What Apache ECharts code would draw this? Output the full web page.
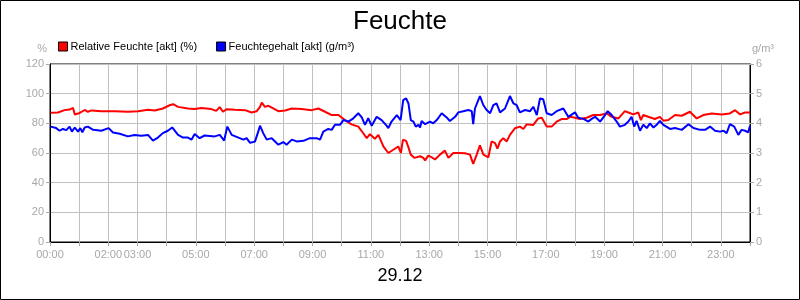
<!DOCTYPE html>
<html>
<head>
<meta charset="utf-8">
<script src="https://cdn.jsdelivr.net/npm/echarts@6/dist/echarts.min.js"></script>
<style>
html,body{margin:0;padding:0;background:#fff;}
#chart{width:800px;height:300px;}
</style>
</head>
<body>
<div id="chart"></div>
<script>
// ---- DATA ----
var titleText = "Feuchte";
var dateText = "29.12";
var seriesNames = ["Relative Feuchte [akt] (%)", "Feuchtegehalt [akt] (g/m³)"];
var leftAxisName = "%";
var rightAxisName = "g/m³";
var xLabelHours = [0, 2, 3, 5, 7, 9, 11, 13, 15, 17, 19, 21, 23];

// Relative humidity (%), time in hours
var rhHours = [0.02,0.27,0.5,0.67,0.79,0.85,1.02,1.19,1.3,1.42,1.76,2.22,2.67,3.02,3.36,3.59,3.87,4.1,4.22,4.39,4.73,4.96,5.19,5.53,5.7,5.82,5.93,6.05,6.11,6.34,6.69,6.91,7.09,7.2,7.26,7.37,7.49,7.83,8.06,8.29,8.63,8.97,9.2,9.43,9.66,9.89,10.11,10.34,10.57,10.74,10.86,10.97,11.14,11.26,11.43,11.6,11.77,11.94,12.03,12.1,12.21,12.29,12.37,12.5,12.69,12.8,12.86,12.97,13.09,13.2,13.37,13.54,13.66,13.83,14.0,14.23,14.4,14.51,14.63,14.74,14.86,15.03,15.14,15.26,15.34,15.43,15.54,15.66,15.77,15.94,16.11,16.23,16.34,16.57,16.74,16.86,17.03,17.2,17.37,17.54,17.71,17.83,18.0,18.17,18.4,18.63,18.86,19.09,19.26,19.49,19.71,19.83,20.0,20.17,20.26,20.34,20.51,20.74,20.91,21.03,21.2,21.43,21.66,21.94,22.17,22.4,22.69,23.03,23.31,23.49,23.66,23.83,24.0];
var rhValues = [87.1,87.3,88.9,89.3,90.4,86,87,89,87.8,88.7,88.2,88.2,87.8,88.2,89.1,88.7,90,92.2,92.9,91.1,90,89.6,90.4,89.6,88.4,90.9,87.8,89.5,90.4,89.1,88.9,87.3,88.2,91.1,94,91.1,91.8,88.2,88.7,90,89.6,88.9,90,87.8,85.6,85.6,82.2,79.3,77.8,73.3,70,72.7,69.6,72.2,64.4,60,62.2,64.4,60,68.9,68.2,63.8,58.9,56.7,57.8,56.7,55,58.2,57.1,55.6,58.9,61.6,56.7,60,60,59.8,58.9,52.7,58.9,65.1,58.9,57.1,67.8,66.7,62.9,67.8,70,67.8,72.2,76.7,77.8,76.2,79.3,78.9,83.3,83.8,77.8,77.8,81.1,82.9,82.9,84.4,83.8,82.9,83.8,85.6,85.6,86.7,84.4,83.3,88.2,87.3,86,87.3,82.2,85.6,84.4,82.9,84.4,81.8,82.2,85.6,85.1,87.8,83.3,85.6,86.7,86,86.7,88.9,86,87.3,87.3];

// Moisture content (g/m³), time in hours
var ahHours = [0.02,0.21,0.33,0.44,0.56,0.67,0.75,0.85,0.96,1.04,1.11,1.19,1.3,1.48,1.76,2.01,2.16,2.39,2.67,2.9,3.13,3.36,3.53,3.7,3.87,4.04,4.19,4.39,4.56,4.73,4.85,4.96,5.13,5.3,5.65,5.82,5.97,6.08,6.13,6.23,6.46,6.63,6.74,6.86,7.03,7.14,7.2,7.31,7.43,7.6,7.83,8.0,8.11,8.29,8.46,8.69,8.91,9.14,9.26,9.37,9.54,9.66,9.77,9.94,10.06,10.23,10.4,10.57,10.69,10.8,10.91,11.03,11.2,11.37,11.54,11.6,11.71,11.89,12.02,12.11,12.21,12.29,12.37,12.46,12.54,12.63,12.69,12.74,12.86,13.03,13.14,13.26,13.31,13.43,13.6,13.71,13.89,14.0,14.17,14.34,14.46,14.51,14.57,14.74,14.86,14.97,15.09,15.2,15.31,15.43,15.6,15.77,15.89,16.0,16.11,16.29,16.46,16.57,16.69,16.8,16.91,17.03,17.2,17.37,17.6,17.77,18.0,18.11,18.29,18.46,18.57,18.69,18.86,19.03,19.12,19.26,19.43,19.54,19.71,19.83,19.94,20.03,20.11,20.23,20.34,20.46,20.57,20.69,20.8,20.91,21.03,21.26,21.43,21.66,21.89,22.06,22.29,22.46,22.63,22.8,22.97,23.09,23.2,23.31,23.46,23.6,23.71,23.83,23.94,24.0];
var ahValues = [3.89,3.84,3.75,3.81,3.77,3.89,3.72,3.86,3.72,3.84,3.70,3.86,3.89,3.78,3.75,3.84,3.69,3.65,3.56,3.61,3.58,3.61,3.42,3.52,3.67,3.75,3.86,3.61,3.52,3.52,3.45,3.64,3.50,3.59,3.56,3.61,3.42,3.89,3.89,3.61,3.52,3.45,3.50,3.34,3.39,3.72,3.92,3.67,3.45,3.50,3.28,3.37,3.28,3.45,3.39,3.41,3.50,3.50,3.45,3.72,3.81,3.78,3.95,3.95,4.11,4.06,4.17,4.34,4.20,3.95,4.17,3.92,4.22,4.11,3.92,3.84,4.06,4.28,4.11,4.78,4.84,4.67,4.11,4.06,3.89,3.95,3.86,4.08,3.97,4.06,4.00,4.11,4.08,4.34,4.20,4.08,4.22,4.37,4.41,4.45,4.41,3.97,4.50,4.92,4.61,4.45,4.34,4.61,4.67,4.37,4.50,4.92,4.67,4.61,4.37,4.45,4.41,4.56,4.28,4.84,4.81,4.34,4.28,4.41,4.50,4.22,4.37,4.19,4.15,4.06,4.15,4.22,4.06,4.28,4.41,4.28,4.06,3.89,3.95,4.06,4.22,3.89,4.08,3.75,3.95,3.84,4.00,3.86,3.95,4.08,3.95,3.81,3.84,3.78,3.97,3.84,3.78,3.78,3.89,3.75,3.72,3.75,3.67,3.97,3.89,3.61,3.78,3.75,3.70,3.92];

// ---- CHART ----
function pad2(n){ return (n < 10 ? '0' : '') + n; }
function zip(a, b){ return a.map(function(v, i){ return [v, b[i]]; }); }

var FONT = "'Liberation Sans', Arial, sans-serif";
var GRAY = '#a8a8a8';
var chart = echarts.init(document.getElementById('chart'), null, {renderer: 'canvas'});

var option = {
  animation: false,
  backgroundColor: '#ffffff',
  textStyle: {fontFamily: FONT},
  title: [
    {text: titleText, left: 'center', top: 4, textStyle: {fontFamily: FONT, fontSize: 26, fontWeight: 'normal', color: '#000'}},
    {text: dateText, left: 'center', top: 262, textStyle: {fontFamily: FONT, fontSize: 18, fontWeight: 'normal', color: '#000'}}
  ],
  legend: {
    left: 53, top: 36,
    itemWidth: 9, itemHeight: 9, itemGap: 19,
    icon: 'rect',
    textStyle: {fontFamily: FONT, fontSize: 11, color: '#000', padding: [0, 0, 0, -2]},
    itemStyle: {borderColor: '#000', borderWidth: 1},
    data: seriesNames
  },
  grid: {left: 50, right: 50, top: 64, bottom: 58, show: true, borderColor: '#000', borderWidth: 1, backgroundColor: 'transparent'},
  xAxis: {
    type: 'value', min: 0, max: 24, interval: 1,
    axisLine: {show: true, lineStyle: {color: '#000', width: 1}},
    axisTick: {show: true, length: 4, lineStyle: {color: GRAY}},
    splitLine: {show: true, lineStyle: {color: '#c0c0c0', width: 1}},
    axisLabel: {
      color: GRAY, fontFamily: FONT, fontSize: 11, margin: 7, hideOverlap: false,
      formatter: function(v){ return xLabelHours.indexOf(v) >= 0 ? pad2(v) + ':00' : ''; }
    }
  },
  yAxis: [
    {
      type: 'value', min: 0, max: 120, interval: 20, position: 'left',
      name: leftAxisName, nameLocation: 'end', nameGap: 10,
      nameTextStyle: {color: GRAY, fontFamily: FONT, fontSize: 11, align: 'right', padding: [0, 3, 0, 0]},
      axisLine: {show: true, lineStyle: {color: '#000'}},
      axisTick: {show: true, length: 4, lineStyle: {color: GRAY}},
      splitLine: {show: true, lineStyle: {color: '#c0c0c0', width: 1}},
      axisLabel: {color: GRAY, fontFamily: FONT, fontSize: 11, margin: 6}
    },
    {
      type: 'value', min: 0, max: 6, interval: 1, position: 'right',
      name: rightAxisName, nameLocation: 'end', nameGap: 10,
      nameTextStyle: {color: GRAY, fontFamily: FONT, fontSize: 11, align: 'left', padding: [0, 0, 0, 2]},
      axisLine: {show: true, lineStyle: {color: '#000'}},
      axisTick: {show: true, length: 4, lineStyle: {color: GRAY}},
      splitLine: {show: false},
      axisLabel: {color: GRAY, fontFamily: FONT, fontSize: 11, margin: 6}
    }
  ],
  graphic: [
    {type: 'rect', z: 100, silent: true, shape: {x: 0.5, y: 0.5, width: 799, height: 299}, style: {fill: 'none', stroke: '#000', lineWidth: 1}}
  ],
  series: [
    {
      name: seriesNames[0], type: 'line', yAxisIndex: 0, showSymbol: false, symbol: 'none',
      data: zip(rhHours, rhValues),
      lineStyle: {color: '#ff0000', width: 2},
      itemStyle: {color: '#ff0000'}
    },
    {
      name: seriesNames[1], type: 'line', yAxisIndex: 1, showSymbol: false, symbol: 'none',
      data: zip(ahHours, ahValues),
      lineStyle: {color: '#0000ff', width: 2},
      itemStyle: {color: '#0000ff'}
    }
  ]
};
chart.setOption(option);
</script>
</body>
</html>
